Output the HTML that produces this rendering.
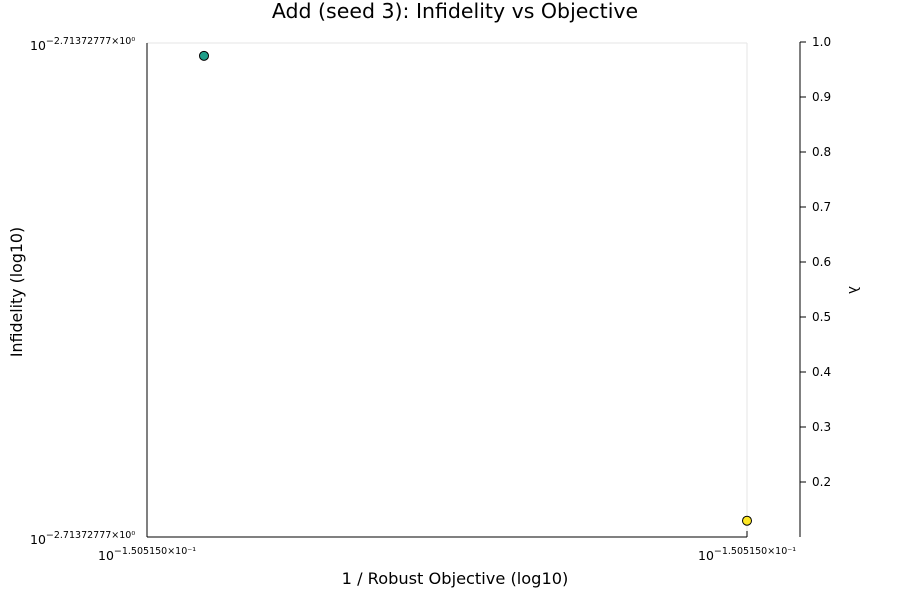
<!DOCTYPE html>
<html><head><meta charset="utf-8"><style>
body{margin:0;background:#fff;font-family:"Liberation Sans","DejaVu Sans",sans-serif;}
svg text{font-family:"DejaVu Sans","Liberation Sans",sans-serif;fill:#000;}
</style></head><body>
<svg id="chart" width="900" height="600" xmlns="http://www.w3.org/2000/svg">
<text x="455" y="18" font-size="20.5" text-anchor="middle">Add (seed 3): Infidelity vs Objective</text>
<line x1="147" y1="43" x2="747" y2="43" stroke="#e6e6e6"/>
<line x1="747" y1="43" x2="747" y2="537" stroke="#e6e6e6"/>
<line x1="147" y1="43" x2="147" y2="537" stroke="#000"/>
<line x1="147" y1="537" x2="747" y2="537" stroke="#000"/>
<line x1="147" y1="537" x2="147" y2="531" stroke="#000"/>
<line x1="747" y1="537" x2="747" y2="531" stroke="#000"/>
<text x="30" y="50" font-size="12.5">10<tspan font-size="9.5" dy="-6">−2.71372777×10⁰</tspan></text>
<text x="30" y="544" font-size="12.5">10<tspan font-size="9.5" dy="-6">−2.71372777×10⁰</tspan></text>
<text x="98" y="560" font-size="12.5">10<tspan font-size="9.5" dy="-6">−1.505150×10⁻¹</tspan></text>
<text x="698" y="560" font-size="12.5">10<tspan font-size="9.5" dy="-6">−1.505150×10⁻¹</tspan></text>
<text x="455" y="584" font-size="16.2" text-anchor="middle">1 / Robust Objective (log10)</text>
<text x="22" y="292" font-size="15.8" text-anchor="middle" transform="rotate(-90 22 292)">Infidelity (log10)</text>
<line x1="800" y1="42" x2="800" y2="537" stroke="#000"/>
<text x="849" y="290" font-size="15" text-anchor="middle" style="font-family:'Liberation Sans',sans-serif" transform="rotate(90 849 290)">λ</text>
<g id="cb"></g>
<g id="pts"></g>
</svg>
<script>
const lambdaTicks = [0.2,0.3,0.4,0.5,0.6,0.7,0.8,0.9,1.0];
const pointX = [0.095, 1.0];
const pointY = [0.974, 0.033];
const pointColor = ["#1f9e89", "#fde725"];
const NS="http://www.w3.org/2000/svg";
const xs=v=>147+v*600, ys=v=>537-v*494, ls=v=>482-(v-0.2)*550;
const cb=document.getElementById('cb');
lambdaTicks.forEach(t=>{
  const l=document.createElementNS(NS,'line');
  l.setAttribute('x1',800);l.setAttribute('x2',806);l.setAttribute('y1',ls(t));l.setAttribute('y2',ls(t));l.setAttribute('stroke','#000');
  
  
  cb.appendChild(l);
  const tx=document.createElementNS(NS,'text');
  tx.setAttribute('x',812);tx.setAttribute('y',ls(t)+4);tx.setAttribute('font-size','12');tx.textContent=t.toFixed(1);
  
  
  cb.appendChild(tx);
});
const pts=document.getElementById('pts');
pointX.forEach((x,i)=>{
  const c=document.createElementNS(NS,'circle');
  c.setAttribute('cx',xs(x));c.setAttribute('cy',ys(pointY[i]));c.setAttribute('r',4.5);
  c.setAttribute('fill',pointColor[i]);c.setAttribute('stroke','#000');c.setAttribute('stroke-width','1');
  
  
  pts.appendChild(c);
});
</script>
</body></html>
